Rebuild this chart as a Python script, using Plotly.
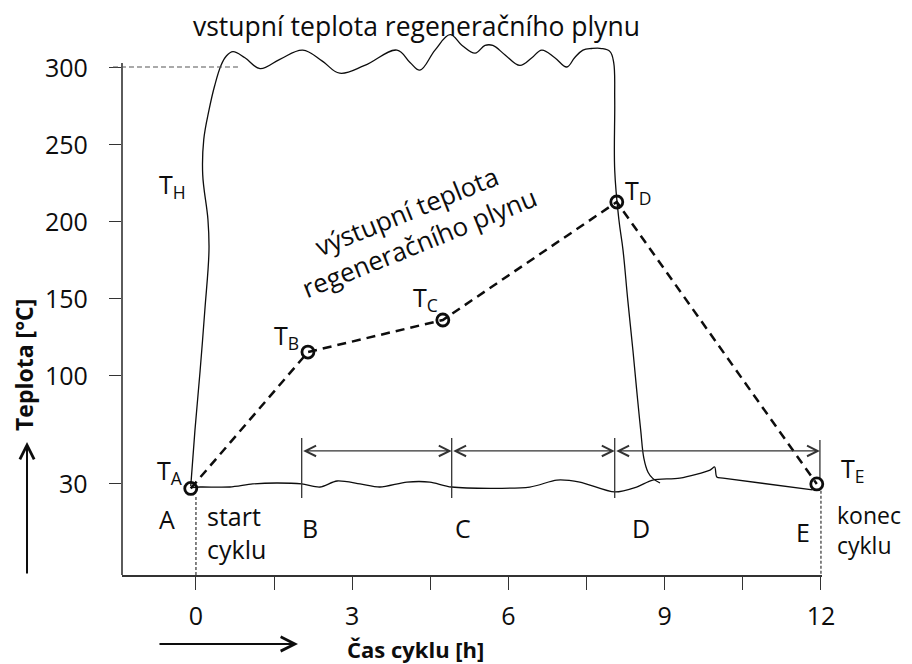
import plotly.graph_objects as go

# ---------------- data ----------------
# x axis (cycle time, h)
x_tickvals = [0, 1.5, 3, 4.5, 6, 7.5, 9, 10.5, 12]
x_ticktext = ["0", "", "3", "", "6", "", "9", "", "12"]
# y axis (temperature, degC)
y_tickvals = [30, 100, 150, 200, 250, 300]
y_ticktext = ["30", "100", "150", "200", "250", "300"]

# inlet temperature of regeneration gas (T_H)
inlet_t = [-0.10, -0.02, 0.08, 0.17, 0.25, 0.23, 0.13, 0.15, 0.25, 0.36, 0.48, 0.58, 0.71,
           0.94, 1.23, 1.61, 2.05, 2.42, 2.76, 3.24, 3.86, 4.11, 4.30, 4.59, 4.88, 5.11,
           5.36, 5.55, 5.70, 5.93, 6.22, 6.45, 6.64, 6.89, 7.12, 7.27, 7.43, 7.60, 7.79,
           7.95, 8.02, 8.04, 8.04, 8.12, 8.20, 8.29, 8.39, 8.48, 8.54, 8.60, 8.68, 8.77, 8.91]
inlet_T = [28, 64, 103, 142, 181, 201, 230, 253, 272, 288, 301, 307, 310,
           306, 299, 305, 311, 304, 296, 301, 311, 303, 298, 311, 321, 314,
           309, 314, 314, 308, 301, 306, 311, 306, 300, 306, 311, 312, 312,
           310, 303, 279, 233, 201, 181, 149, 116, 84, 64, 46, 37, 33, 30]

# bed temperature near 30 degC
bed_t = [-0.10, 0.08, 0.65, 1.09, 1.55, 2.03, 2.38, 2.71, 3.15, 3.53, 4.05, 4.49, 4.91,
         6.41, 6.93, 7.37, 8.04, 8.46, 8.77, 9.29, 9.87, 9.96, 10.00, 10.12, 11.84]
bed_T = [27.0, 27.4, 27.4, 29.4, 30.0, 29.4, 27.4, 31.3, 29.4, 27.4, 30.6, 30.6, 27.4,
         27.4, 31.9, 30.6, 24.2, 27.4, 31.9, 33.2, 38.4, 40.4, 33.9, 33.2, 25.5]

# outlet temperature of regeneration gas (T_A ... T_E)
out_names = ["A", "B", "C", "D", "E"]
out_t = [-0.10, 2.15, 4.74, 8.08, 11.92]
out_T = [26.5, 115.0, 135.8, 212.4, 29.4]

# phase boundaries B, C, D, E
phase_t = [2.03, 4.91, 8.04, 11.98]
phase_lo = [20.3, 20.3, 20.3, 32.0]
phase_hi = [59.2, 59.2, 59.2, 57.9]
phase_arrow_T = 50.8

# cycle start / end
cycle_t = [0, 12]
cycle_top = [21.0, 25.0]

x_range = [-1.42, 12.02]
y_range = [-29.7, 337.0]
y_axis_top = 302.6

# ---------------- figure ----------------
FONT = "Open Sans"
INK = "#0d0d0d"

fig = go.Figure()

fig.add_trace(go.Scatter(x=inlet_t, y=inlet_T, mode="lines",
                         line=dict(color=INK, width=1.3, shape="spline", smoothing=1.1),
                         hoverinfo="skip", showlegend=False))
fig.add_trace(go.Scatter(x=bed_t, y=bed_T, mode="lines",
                         line=dict(color=INK, width=1.3, shape="spline", smoothing=0.8),
                         hoverinfo="skip", showlegend=False))

# phase boundary ticks
px_, py_ = [], []
for t, lo, hi in zip(phase_t, phase_lo, phase_hi):
    px_ += [t, t, None]
    py_ += [lo, hi, None]
fig.add_trace(go.Scatter(x=px_, y=py_, mode="lines", line=dict(color="#333", width=1.3),
                         hoverinfo="skip", showlegend=False))

# cycle start/end dashed verticals
cx, cy = [], []
for t, top in zip(cycle_t, cycle_top):
    cx += [t, t, None]
    cy += [top, y_range[0], None]
fig.add_trace(go.Scatter(x=cx, y=cy, mode="lines",
                         line=dict(color="#333", width=1.2, dash="3px,2px"),
                         hoverinfo="skip", showlegend=False))

# outlet temperature dashed line with open circles
fig.add_trace(go.Scatter(x=out_t, y=out_T, mode="lines+markers",
                         line=dict(color=INK, width=2.5, dash="9px,6px"),
                         marker=dict(symbol="circle-open", size=12, color=INK,
                                     line=dict(width=2.8, color=INK)),
                         cliponaxis=False, hoverinfo="skip", showlegend=False))

annotations = []
# dimension arrows between phase boundaries
for a, b in zip(phase_t[:-1], phase_t[1:]):
    annotations.append(dict(x=b, y=phase_arrow_T, ax=a, ay=phase_arrow_T,
                            xref="x", yref="y", axref="x", ayref="y", text="",
                            showarrow=True, arrowside="end+start",
                            arrowhead=5, startarrowhead=5, arrowsize=1.6, startarrowsize=1.6,
                            arrowwidth=1.3, arrowcolor="#333", standoff=0, startstandoff=0))

def txt(x, y, text, size=25, xanchor="center", align="center", angle=0, xref="x", yref="y"):
    annotations.append(dict(x=x, y=y, xref=xref, yref=yref, text=text, showarrow=False,
                            xanchor=xanchor, yanchor="middle", align=align, textangle=angle,
                            font=dict(family=FONT, size=size, color=INK)))

# y tick labels (placed on the y scale)
for v, s in zip(y_tickvals, y_ticktext):
    txt(-0.0457, v, s, size=25, xanchor="right", xref="paper")

txt(4.24, 326.6, "vstupní teplota regeneračního plynu", size=26.5)
txt(4.16, 196.0, "výstupní teplota<br>regeneračního plynu", size=26, angle=-22)
txt(-0.46, 223.4, "T<sub>H</sub>")
txt(-0.50, 37.8, "T<sub>A</sub>")
txt(1.74, 125.4, "T<sub>B</sub>")
txt(4.40, 149.5, "T<sub>C</sub>")
txt(8.48, 219.0, "T<sub>D</sub>")
txt(1.0443, 39.1, "T<sub>E</sub>", xref="paper")
txt(-0.56, 6.6, "A")
txt(0.17, -1.8, "start<br>cyklu", xanchor="left", align="left")
txt(2.19, 0.8, "B")
txt(5.12, 0.8, "C")
txt(8.54, 0.8, "D")
txt(11.65, -1.8, "E")
txt(1.0186, -0.5, "konec<br>cyklu", size=23, xanchor="left", align="left", xref="paper")

# axis titles with arrows
annotations.append(dict(x=-0.14, y=0.3717, xref="paper", yref="paper", text="<b>Teplota [°C]</b>",
                        showarrow=False, textangle=-90, xanchor="center", yanchor="middle",
                        font=dict(family=FONT, size=23, color=INK)))
annotations.append(dict(x=-0.1357, y=0.2354, xref="paper", yref="paper", text="",
                        showarrow=True, ax=0, ay=133, arrowhead=5, arrowsize=1.4,
                        arrowwidth=2, arrowcolor=INK, standoff=0))
annotations.append(dict(x=0.4186, y=-0.131, xref="paper", yref="paper", text="<b>Čas cyklu [h]</b>",
                        showarrow=False, xanchor="center", yanchor="middle",
                        font=dict(family=FONT, size=22, color=INK)))
annotations.append(dict(x=0.2514, y=-0.1221, xref="paper", yref="paper", text="",
                        showarrow=True, ax=-140, ay=0, arrowhead=5, arrowsize=1.4,
                        arrowwidth=2, arrowcolor=INK, standoff=0))

shapes = [
    # y axis line (stops at top of scale)
    dict(type="line", xref="paper", yref="y", x0=0, x1=0, y0=y_range[0], y1=y_axis_top,
         line=dict(color="#333", width=1.6)),
    # dashed guide at 300
    dict(type="line", xref="paper", yref="y", x0=-0.0129, x1=0.1686, y0=300, y1=300,
         line=dict(color="#555", width=1.2, dash="5px,3px")),
]

# page body has an 8px margin: figure is 904x656 so it fills the 912x664 window
fig.update_layout(
    width=904, height=656,
    margin=dict(l=114, r=90, t=2, b=89),
    paper_bgcolor="white", plot_bgcolor="white",
    font=dict(family=FONT, color=INK),
    annotations=annotations, shapes=shapes,
    xaxis=dict(range=x_range, showgrid=False, zeroline=False,
               showline=True, linecolor="#333", linewidth=1.6,
               tickmode="array", tickvals=x_tickvals, ticktext=x_ticktext,
               ticks="outside", ticklen=13, tickwidth=1.3, tickcolor="#333",
               ticklabelstandoff=5,
               tickfont=dict(family=FONT, size=25, color=INK)),
    yaxis=dict(range=y_range, showgrid=False, zeroline=False, showline=False,
               tickmode="array", tickvals=y_tickvals, showticklabels=False,
               ticks="outside", ticklen=12, tickwidth=1.3, tickcolor="#333"),
)

fig.write_html("out.html")
